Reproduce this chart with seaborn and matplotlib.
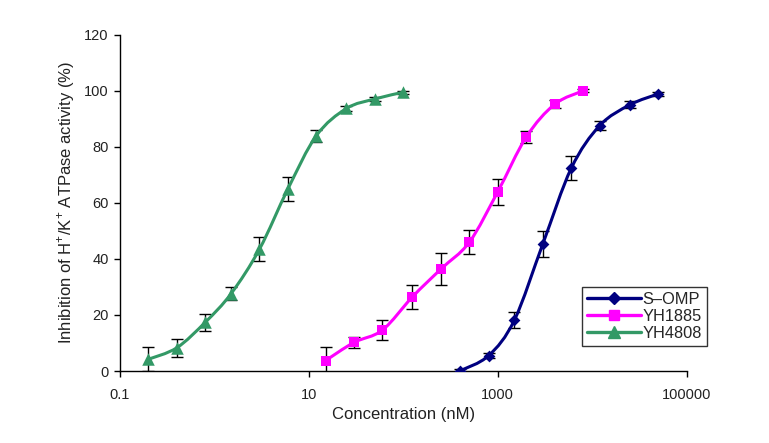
import numpy as np
import matplotlib
matplotlib.use('Agg')
import matplotlib.pyplot as plt
from matplotlib.path import Path
from matplotlib.patches import PathPatch
from matplotlib.lines import Line2D
import seaborn as sns

# Dados (concentração em nM, inibição em %)
somp_conc = [400, 800, 1500, 3000, 6000, 12000, 25000, 50000]
somp_inib = [0.1, 5.5, 18.2, 45.4, 72.4, 87.6, 95.0, 98.9]
somp_err = [0.5, 0.8, 3.0, 4.6, 4.2, 1.5, 1.2, 0.8]

yh1885_conc = [15, 30, 60, 125, 250, 500, 1000, 2000, 4000, 8000]
yh1885_inib = [3.7, 10.2, 14.6, 26.5, 36.4, 46.0, 64.0, 83.5, 95.2, 100.0]
yh1885_err = [4.8, 2.1, 3.6, 4.3, 5.8, 4.3, 4.6, 2.1, 1.5, 0.5]

yh4808_conc = [0.2, 0.4, 0.8, 1.5, 3, 6, 12, 25, 50, 100]
yh4808_inib = [4.2, 8.3, 17.4, 27.6, 43.5, 65.0, 84.0, 93.7, 97.1, 99.5]
yh4808_err = [4.2, 3.2, 3.1, 2.4, 4.3, 4.4, 2.1, 1.0, 0.7, 0.5]

series = [
    ('S\u2013OMP', somp_conc, somp_inib, somp_err, '#000080', 'D', 6),
    ('YH1885', yh1885_conc, yh1885_inib, yh1885_err, '#FF00FF', 's', 7.5),
    ('YH4808', yh4808_conc, yh4808_inib, yh4808_err, '#339966', '^', 9),
]

sns.set_theme(style="white")
plt.rcParams['font.family'] = ['Liberation Sans', 'DejaVu Sans']
plt.rcParams['mathtext.fontset'] = 'custom'
plt.rcParams['mathtext.rm'] = 'Liberation Sans'

fig = plt.figure(figsize=(7.69, 4.43), dpi=100)
ax = fig.add_axes([0.156, 0.1625, 0.737, 0.759])


def curva_suave(x, y):
    # Linha suavizada (Bezier estilo Excel) no espaço log10(x)
    lx = np.log10(x)
    y = np.asarray(y, float)
    n = len(lx)
    verts = [(x[0], y[0])]
    codes = [Path.MOVETO]
    for i in range(n - 1):
        i0 = max(i - 1, 0)
        i3 = min(i + 2, n - 1)
        c1x = lx[i] + (lx[i + 1] - lx[i0]) / 6
        c1y = y[i] + (y[i + 1] - y[i0]) / 6
        c2x = lx[i + 1] - (lx[i3] - lx[i]) / 6
        c2y = y[i + 1] - (y[i3] - y[i]) / 6
        verts += [(10 ** c1x, c1y), (10 ** c2x, c2y), (x[i + 1], y[i + 1])]
        codes += [Path.CURVE4] * 3
    return Path(verts, codes)


handles = []
for nome, conc, inib, err, cor, mk, ms in series:
    ax.errorbar(conc, inib, yerr=err, fmt='none', ecolor='black',
                elinewidth=1, capsize=4, capthick=1, zorder=2)
    ax.add_patch(PathPatch(curva_suave(conc, inib), facecolor='none',
                           edgecolor=cor, lw=2.2, zorder=3))
    sns.scatterplot(x=conc, y=inib, ax=ax, marker=mk, s=ms ** 2, color=cor,
                    edgecolor=cor, linewidth=0, zorder=4)
    handles.append(Line2D([], [], color=cor, lw=2.4, marker=mk,
                          markersize=ms * 0.95, label=nome))

ax.set_xscale('log')
ax.set_xlim(0.1, 100000)
ax.set_ylim(0, 120)
ax.set_xticks([0.1, 10, 1000, 100000])
ax.set_xticklabels(['0.1', '10', '1000', '100000'])
ax.xaxis.set_minor_locator(matplotlib.ticker.NullLocator())
ax.set_yticks(range(0, 121, 20))

for s in ['top', 'right']:
    ax.spines[s].set_visible(False)
for s in ['left', 'bottom']:
    ax.spines[s].set_color('black')
    ax.spines[s].set_linewidth(1)
ax.tick_params(axis='both', which='major', direction='out', length=4,
               width=1, color='black', labelsize=10.5, labelcolor='#222222',
               left=True, bottom=True, pad=4)
ax.tick_params(axis='x', pad=8)

ax.set_xlabel('Concentration (nM)', fontsize=12, color='#222222', labelpad=4)
ax.set_ylabel(r'Inhibition of H$^{+}$/K$^{+}$ ATPase activity (%)',
              fontsize=12, color='#222222', labelpad=5)

leg = ax.legend(handles=handles, loc='upper left',
                bbox_to_anchor=(0.757, 0.352), bbox_transform=fig.transFigure,
                frameon=True, fancybox=False, fontsize=11.8, handlelength=3.3,
                handletextpad=0.1, borderpad=0.3, labelspacing=0.12,
                borderaxespad=0)
leg.get_frame().set_edgecolor('black')
leg.get_frame().set_linewidth(1)

plt.savefig('out.png', dpi=100)
plt.close()
